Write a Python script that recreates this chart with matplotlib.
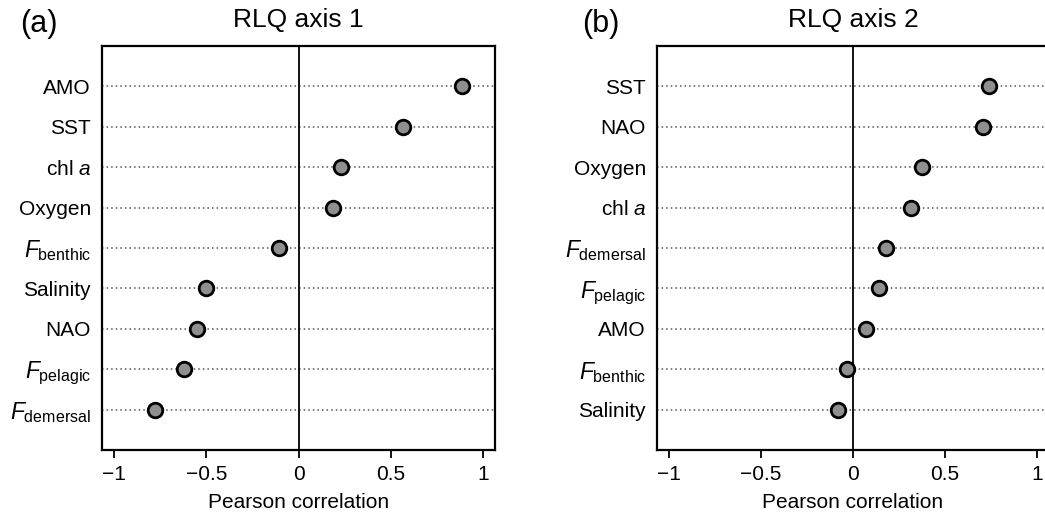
#!/usr/bin/env python3
"""Dot chart of Pearson correlations for RLQ axes 1 and 2."""
import matplotlib
matplotlib.use("Agg")
import matplotlib.pyplot as plt

plt.rcParams.update({
    "font.family": "Liberation Sans",
    "mathtext.fontset": "custom",
    "mathtext.rm": "Liberation Sans",
    "mathtext.it": "Liberation Sans:italic",
    "mathtext.bf": "Liberation Sans:bold",
})

# axis 1 (top to bottom)
labels_ax1 = ["AMO", "SST", "chl $a$", "Oxygen", r"$F_{\mathrm{benthic}}$",
              "Salinity", "NAO", r"$F_{\mathrm{pelagic}}$", r"$F_{\mathrm{demersal}}$"]
values_ax1 = [0.886, 0.568, 0.23, 0.186, -0.103, -0.504, -0.55, -0.62, -0.778]

# axis 2 (top to bottom)
labels_ax2 = ["SST", "NAO", "Oxygen", "chl $a$", r"$F_{\mathrm{demersal}}$",
              r"$F_{\mathrm{pelagic}}$", "AMO", r"$F_{\mathrm{benthic}}$", "Salinity"]
values_ax2 = [0.741, 0.705, 0.373, 0.313, 0.18, 0.14, 0.07, -0.034, -0.08]

xticks = [-1, -0.5, 0, 0.5, 1]
xtick_labels = ["\u22121", "\u22120.5", "0", "0.5", "1"]

W, H = 1045, 518
fig = plt.figure(figsize=(W / 100, H / 100), dpi=100)


def panel(rect, labels, values, title, tag, tag_x):
    ax = fig.add_axes(rect)
    n = len(labels)
    ys = list(range(n, 0, -1))
    xmin, xmax = -1.065, 1.065
    for y in ys:
        ax.plot([xmin, xmax], [y, y], linestyle=(0, (1, 2)), color="#555555",
                linewidth=1.1, zorder=1)
    ax.axvline(0, color="black", linewidth=1.3, zorder=2)
    ax.plot(values, ys, "o", markersize=10.5, markerfacecolor="#8f8f8f",
            markeredgecolor="black", markeredgewidth=2, linestyle="none", zorder=3)
    ax.set_xlim(xmin, xmax)
    ax.set_ylim(0, n + 1)
    ax.set_yticks(ys)
    ax.set_yticklabels(labels, fontsize=15)
    # subscripted labels: a bit larger so the subscript reads like the original
    for t in ax.get_yticklabels():
        if "F_" in t.get_text():
            t.set_fontsize(16.5)
    ax.tick_params(axis="y", length=0, pad=8)
    ax.set_xticks(xticks)
    ax.set_xticklabels(xtick_labels, fontsize=15)
    ax.tick_params(axis="x", direction="out", length=6, width=1.3, pad=5)
    ax.set_xlabel("Pearson correlation", fontsize=15, labelpad=6)
    ax.set_title(title, fontsize=19, pad=14)
    for s in ax.spines.values():
        s.set_linewidth(1.6)
    fig.text(tag_x, 0.953, tag, fontsize=22, ha="left", va="center")
    return ax


panel([102 / W, 68 / H, 393 / W, 404 / H], labels_ax1, values_ax1,
      "RLQ axis 1", "(a)", 20 / W)
panel([657 / W, 68 / H, 392 / W, 404 / H], labels_ax2, values_ax2,
      "RLQ axis 2", "(b)", 582 / W)

fig.savefig("out.png", dpi=100)
